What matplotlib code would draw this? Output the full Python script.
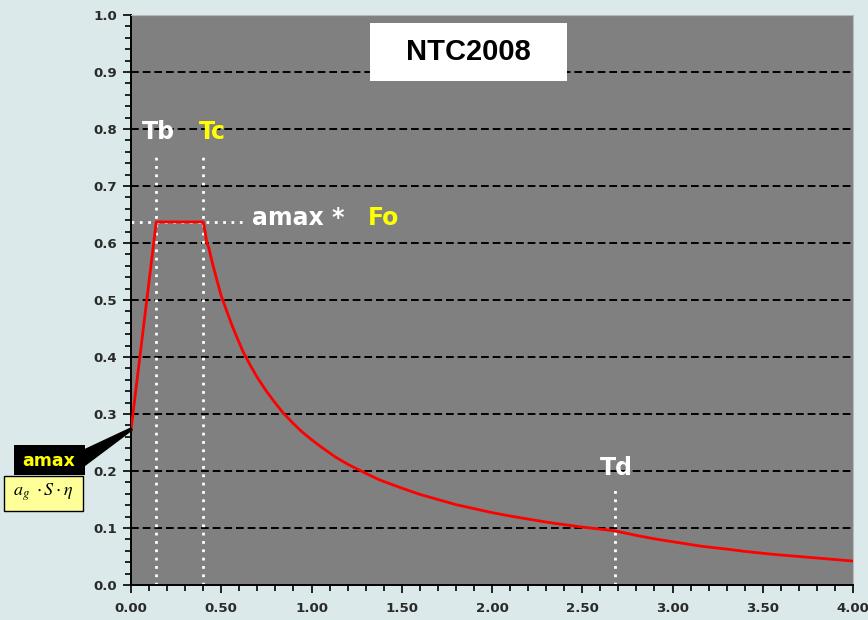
import numpy as np
import matplotlib.pyplot as plt
from matplotlib.patches import Rectangle, Polygon
from matplotlib.ticker import MultipleLocator, FormatStrFormatter

# spectrum (period T [s], Se [g])
T = [0.00, 0.14, 0.40, 0.41, 0.42, 0.43, 0.45, 0.47, 0.50, 0.53, 0.56, 0.59, 0.62, 0.66,
     0.70, 0.75, 0.80, 0.84, 0.90, 0.95, 1.00, 1.05, 1.13, 1.20, 1.30, 1.38, 1.50, 1.60,
     1.70, 1.80, 1.90, 2.00, 2.10, 2.25, 2.35, 2.49, 2.60, 2.68, 2.80, 2.90, 3.00, 3.16,
     3.30, 3.40, 3.55, 3.70, 3.85, 4.00]
Se = [0.272, 0.637, 0.637, 0.621, 0.600, 0.593, 0.566, 0.542, 0.507, 0.481, 0.455, 0.432,
      0.410, 0.386, 0.364, 0.340, 0.319, 0.303, 0.283, 0.268, 0.255, 0.243, 0.225, 0.212,
      0.196, 0.184, 0.170, 0.159, 0.150, 0.141, 0.134, 0.127, 0.121, 0.113, 0.108, 0.102,
      0.098, 0.095, 0.087, 0.081, 0.076, 0.068, 0.063, 0.059, 0.054, 0.050, 0.046, 0.042]

Tb = 0.14
Tc = 0.40
Td = 2.68
plateau = 0.637

grid_levels = [0.1, 0.2, 0.3, 0.4, 0.5, 0.6, 0.7, 0.8, 0.9]

bg = '#dce9ea'
fig = plt.figure(figsize=(8.68, 6.2), dpi=100, facecolor=bg)
ax = fig.add_axes([131/868, 35/620, 722/868, 570/620])
ax.set_facecolor('#808080')

for g in grid_levels:
    ax.axhline(g, color='black', lw=1.4, dashes=(4, 2), zorder=1)

dot = dict(color='white', lw=2, dashes=(1, 2), zorder=2)
ax.plot([Tb, Tb], [0, 0.752], **dot)
ax.plot([Tc, Tc], [0, 0.752], **dot)
ax.plot([Td, Td], [0, 0.176], **dot)
ax.plot([0, 0.62], [plateau, plateau], **dot)

ax.plot(T, Se, color='red', lw=2, zorder=3, solid_joinstyle='round')

ax.set_xlim(0, 4.0)
ax.set_ylim(0, 1.0)
ax.xaxis.set_major_locator(MultipleLocator(0.5))
ax.xaxis.set_minor_locator(MultipleLocator(0.1))
ax.yaxis.set_major_locator(MultipleLocator(0.1))
ax.yaxis.set_minor_locator(MultipleLocator(0.02))
ax.xaxis.set_major_formatter(FormatStrFormatter('%.2f'))
ax.yaxis.set_major_formatter(FormatStrFormatter('%.1f'))
ax.tick_params(which='major', length=6, width=1.2, direction='out', color='black',
               labelsize=9.6, labelcolor='#2a2a2a', pad=4)
ax.tick_params(which='minor', length=4, width=1.2, direction='out', color='black')
ax.tick_params(axis='x', pad=6)
for lab in ax.get_xticklabels() + ax.get_yticklabels():
    lab.set_fontweight('bold')

for s in ['left', 'bottom']:
    ax.spines[s].set_color('black')
    ax.spines[s].set_linewidth(1.4)
for s in ['top', 'right']:
    ax.spines[s].set_color('#b8b8b8')

# title box
ax.add_patch(Rectangle((1.326, 0.884), 1.087, 0.102, facecolor='white', edgecolor='none', zorder=4))
ax.text(1.87, 0.935, 'NTC2008', ha='center', va='center', fontsize=21, fontweight='bold',
        family='Liberation Sans', color='black', zorder=5)

lbl = dict(fontsize=17, fontweight='bold', va='center', zorder=5)
ax.text(Tb + 0.01, 0.795, 'Tb', color='white', ha='center', **lbl)
ax.text(Tc + 0.05, 0.795, 'Tc', color='yellow', ha='center', **lbl)
ax.text(Td + 0.01, 0.205, 'Td', color='white', ha='center', **lbl)
ax.text(0.67, 0.644, 'amax *', color='white', ha='left', **lbl)
ax.text(1.31, 0.644, 'Fo', color='yellow', ha='left', **lbl)

# left-side labels (figure pixels -> fraction)
W, H = 868, 620
def fx(px):
    return px / W
def fy(py):
    return 1 - py / H

fig.add_artist(Polygon([(fx(84), fy(450)), (fx(84), fy(466)), (fx(132), fy(430)), (fx(131), fy(428))],
                       closed=True, transform=fig.transFigure, facecolor='black', edgecolor='black', lw=1))
fig.add_artist(Rectangle((fx(14), fy(475)), fx(85) - fx(14), fy(445) - fy(475),
                         transform=fig.transFigure, facecolor='black', edgecolor='none'))
fig.text(fx(49), fy(461), 'amax', color='yellow', fontsize=12.5, fontweight='bold',
         ha='center', va='center')
fig.add_artist(Rectangle((fx(4), fy(511)), fx(83) - fx(4), fy(476) - fy(511),
                         transform=fig.transFigure, facecolor='#ffff99', edgecolor='black', lw=1))
fig.text(fx(43), fy(492), r'$a_g\ \cdot S\cdot\eta$', color='black', fontsize=13,
         ha='center', va='center', math_fontfamily='stix')

fig.savefig('out.png', dpi=100, facecolor=bg)
